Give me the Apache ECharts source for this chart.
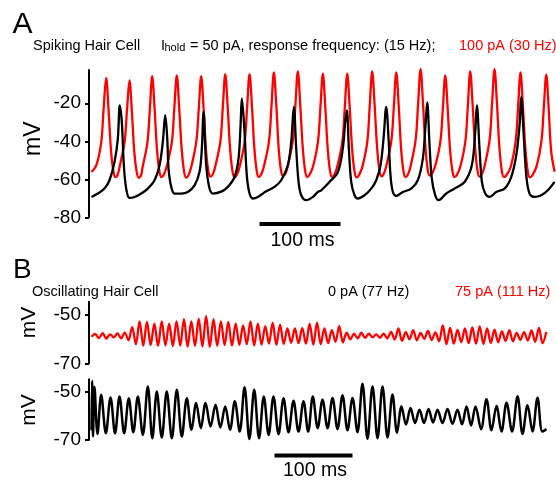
<!DOCTYPE html>
<html>
<head>
    <meta charset="utf-8">
    <title>Hair cell traces</title>
    <script src="https://cdn.jsdelivr.net/npm/echarts@6/dist/echarts.min.js"></script>
</head>
<body style="margin:0">
    <div id="main" style="width: 556px;height:482px;"></div>
    <script>
        // Panel A, spiking hair cell: [time (ms), potential (mV)]
        var spike100pA = [
            [0,-56.2],[6,-52.6],[12,-40.4],[15,-22.6],[18.1,-6.7],
            [21.1,-24],[24.1,-45],[27.1,-56],[29.6,-58.8],[32.6,-57.2],[34.9,-53],[40.9,-40],[43.9,-23],[46.9,-8],
            [49.9,-25],[52.9,-46],[55.9,-56.5],[58.4,-59.2],[61.4,-57.6],[62.9,-54],[68.9,-41],[71.9,-24],[74.9,-5.8],
            [77.9,-23],[80.9,-45],[83.9,-56],[86.4,-58.8],[89.4,-57.5],[93.3,-52.5],[99.3,-40],[102.3,-22],[105.3,-5.3],
            [108.3,-23],[111.3,-44],[114.3,-56],[116.8,-59.2],[119.8,-57.8],[123.4,-53],[129.4,-40],[132.4,-23],[135.4,-5.8],
            [138.4,-23],[141.4,-45],[144.4,-56],[146.9,-58.6],[149.9,-57.3],[153.1,-52.6],[159.1,-40],[162.1,-22],[165.1,-4.7],
            [168.1,-22],[171.1,-44],[174.1,-56],[176.6,-59],[179.6,-57.5],[183.1,-53],[189.1,-40],[192.1,-22],[195.1,-4.7],
            [198.1,-22],[201.1,-44],[204.1,-56],[206.6,-58.8],[209.6,-57.4],[213.1,-52.8],[219.1,-40],[222.1,-22],[225.1,-3.8],
            [228.1,-21],[231.1,-44],[234.1,-55.8],[236.6,-58.2],[239.6,-56.8],[242.7,-52.5],[248.7,-39],[251.7,-21],[254.7,-3.2],
            [257.7,-21],[260.7,-43],[263.7,-55.5],[266.2,-58.8],[269.2,-57.6],[273.6,-53],[279.6,-40],[282.6,-22],[285.6,-4.4],
            [288.6,-22],[291.6,-44],[294.6,-56],[297.1,-58.8],[300.1,-57.4],[303.7,-52.8],[309.7,-40],[312.7,-22],[315.7,-4.4],
            [318.7,-22],[321.7,-44],[324.7,-56],[327.2,-59],[330.2,-57.8],[334.5,-53.2],[340.5,-40],[343.5,-21],[346.5,-3.2],
            [349.5,-21],[352.5,-43],[355.5,-55.6],[358,-58.4],[361,-57],[364.2,-52.5],[370.2,-39.5],[373.2,-22],[376.2,-3.8],
            [379.2,-21],[382.2,-44],[385.2,-56],[387.7,-58.8],[390.7,-57.4],[394.2,-52.6],[400.2,-39],[403.2,-20],[406.2,-2.1],
            [409.2,-20],[412.2,-43],[415.2,-55.4],[417.7,-58],[420.7,-56.8],[424.7,-52.4],[430.7,-40],[433.7,-23],[436.7,-5.3],
            [439.7,-23],[442.7,-45],[445.7,-56],[448.2,-58.8],[451.2,-57.6],[455.5,-53],[461.5,-40],[464.5,-22],[467.5,-3.2],
            [470.5,-21],[473.5,-43],[476.5,-55.6],[479,-58.6],[482,-57.2],[485.5,-52.6],[491.5,-39],[494.5,-20],[497.5,-2.1],
            [500.5,-20],[503.5,-43],[506.5,-55.6],[509,-58.8],[512,-58],[517.6,-53.4],[523.6,-40],[526.6,-22],[529.6,-3.8],
            [532.6,-22],[535.6,-44],[538.6,-56],[541.1,-59],[544.1,-58],[549.4,-53.2],[555.4,-40],[558.4,-22],[561.4,-4.9],
            [564.4,-23],[567.4,-45],[571.6,-56]
        ];
        var spike50pA = [
            [0,-69.3],[7.8,-67.5],[16,-64.9],[22.2,-60.5],[28.4,-50.9],[32.5,-38.6],[34.9,-21.1],
            [37.4,-29.8],[39.9,-52.6],[42.8,-64.9],[46.9,-69.8],[53.1,-69.3],[61.4,-67.5],[69.5,-64.9],[77.8,-60.5],[84,-52.6],[88,-40.4],[91,-26.3],
            [93.5,-38.6],[95.1,-54.4],[98.4,-64],[102.5,-67.5],[110.7,-67.5],[118.9,-66.7],[127.2,-63.2],[133.3,-56.2],[136.2,-43.9],[138.3,-24.5],
            [141.6,-52.6],[145.7,-64.9],[149.8,-67.5],[160.1,-66.5],[168.3,-64],[176.5,-58.8],[181.5,-49.1],[184,-31.6],[185.6,-17.5],
            [188.9,-35.1],[191.7,-57.9],[195.1,-67.5],[199.1,-70.1],[205.3,-69.3],[215.7,-66.3],[225.9,-64],[234.2,-60.5],[242.3,-52.6],[246.5,-40.4],[249.8,-21.9],
            [252.7,-43.9],[255.6,-61.4],[258.9,-68.4],[265.1,-71],[273.2,-69.3],[279.4,-66.7],[283.6,-65.8],[293.8,-61.4],[304.1,-56.2],[310.2,-43.9],[313.2,-29.8],[315.2,-23.7],
            [317.7,-43.9],[320.6,-61.4],[324.7,-68.4],[328.8,-70.1],[337,-68.4],[345.3,-64.9],[351.5,-60.5],[356.8,-52.6],[360.5,-38.6],[363.8,-21.9],
            [366.7,-38.6],[369.1,-57.9],[372,-66.7],[376.2,-68.8],[384.3,-66.7],[394.7,-64.9],[402.8,-60.5],[409,-49.1],[412.3,-31.6],[414.4,-19.6],
            [417.3,-42.1],[420.1,-59.6],[424.3,-68.4],[428.4,-71],[437.9,-67.5],[448.1,-64.9],[460.5,-61.4],[469.5,-52.6],[473.7,-35.1],[475.7,-21.1],
            [479,-43.9],[481.9,-61.4],[486,-67.5],[491.4,-69.3],[499.6,-66.7],[509.9,-64.9],[518.1,-58.8],[524.3,-47.4],[528.4,-31.6],[530.5,-16.7],
            [533.3,-35.1],[536.7,-57.9],[540.7,-67.5],[546.9,-69.3],[555.2,-68.4],[563.3,-65.8],[571.6,-61.4]
        ];

        // Panel B, oscillating hair cell
        // 75 pA: alternating peak / trough values, one every 4.74 ms
        var osc75pAStep = 4.74;
        var osc75pA = [
            -59.2,
            -58.0,-59.7, -57.7,-59.9, -58.2,-59.4, -57.8,-59.8, -57.5,-60.6,
            -55.2,-62.2, -52.9,-62.8, -53.1,-62.6, -53.8,-62.9, -52.9,-62.7,
            -53.8,-63.0, -52.9,-62.8, -52.0,-63.2, -52.9,-62.9, -51.8,-63.1,
            -50.7,-63.3, -52.0,-62.9, -52.9,-62.6, -53.1,-62.8, -53.8,-62.5,
            -54.5,-62.2, -52.9,-62.7, -53.8,-62.4, -54.8,-62.0, -53.4,-62.5,
            -54.2,-62.1, -55.8,-61.6, -55.8,-61.8, -55.6,-62.0, -53.8,-62.4,
            -53.4,-62.2, -55.8,-61.8, -56.5,-61.2, -54.8,-61.5, -57.5,-60.2,
            -57.9,-59.8, -57.5,-59.6, -57.9,-59.4, -58.2,-59.6, -57.9,-59.8,
            -57.2,-60.3, -55.8,-60.8, -57.3,-60.2, -56.5,-60.6, -57.6,-60.0,
            -56.8,-60.5, -57.4,-61.0, -54.5,-62.2, -55.5,-62.0, -56.4,-61.4,
            -55.8,-61.8, -55.3,-62.0, -54.9,-62.1, -55.8,-61.7, -56.3,-61.4,
            -57.0,-60.8, -56.5,-61.0, -57.6,-60.4, -57.3,-60.7, -56.6,-61.2,
            -55.5,-61.8, -57.2
        ];
        // 0 pA: [time (ms), potential (mV)]
        var osc0pA = [
            [0,-66],[0.8,-45.5],[1.9,-68.5],[3.8,-48],[7.7,-67.5],
            [12.4,-51.3],[18.4,-67.2],[24.4,-52.4],[30.2,-67.2],[35.9,-52],[41.9,-67.2],
            [47.8,-52.7],[53.6,-66.8],[59.4,-52],[65.8,-67.9],[72.2,-47.8],[78,-69.3],
            [83.7,-49.9],[90.1,-69],[96.5,-49.9],[103,-69.3],[109.4,-49.2],[115.8,-68.6],
            [122.2,-52.7],[128.2,-65.8],[134.2,-54.7],[140.2,-65.1],[146.2,-54.7],[152.6,-64.4],
            [159,-55.4],[165.2,-64.8],[171.4,-56.1],[177.6,-65.8],[183.7,-54],[190,-66.5],
            [196.2,-48.2],[202.4,-69.6],[208.6,-49.2],[214.8,-69.3],[220.9,-52],[227.1,-67.9],
            [233.3,-52],[239.8,-67.6],[246.2,-52.7],[252.6,-66.8],[259,-53.8],[265.4,-66.5],
            [271.8,-54],[277.8,-66.5],[283.7,-52],[290,-65.1],[296.2,-53.3],[302.6,-65.1],
            [309,-52.6],[315.4,-65.5],[321.8,-51.5],[328.2,-66],[334.6,-52.6],[341,-66.8],
            [347.4,-46.7],[353.8,-69.5],[360.3,-47.8],[366.7,-69.3],[373.1,-47.8],[379.5,-69],
            [385.9,-51.2],[391.7,-67],[397.4,-56.1],[403.2,-63.6],[409,-56.8],[414.8,-63],
            [420.5,-57.5],[426.3,-63],[432.1,-57.2],[437.9,-62.8],[443.6,-57.5],[450,-63],
            [456.4,-57.2],[462.8,-63.3],[469.2,-57.5],[475,-63.5],[480.8,-56.1],[486.6,-64],
            [492.3,-56.1],[499.4,-65.5],[506.4,-53.1],[512.8,-66],[519.2,-55.9],[525.6,-66.5],
            [532.1,-54.6],[539.2,-66.5],[546.2,-51.9],[552.6,-67.5],[559,-55.6],[565.4,-66.5],
            [571.8,-52.5],[578,-66.5],[583.3,-65.5]
        ];

        var ticksA = [-80, -60, -40, -20];
        var ticksB = [-70, -50];
        // 100 ms scale bars: start time (ms)
        var scaleBarAStart = 207.4;
        var scaleBarBStart = 234.6;
        var scaleBarLength = 100;

        var FONT = '"Liberation Sans", Arial, sans-serif';
        var RED = '#ff0000';

        var chartDom = document.getElementById('main');
        var myChart = echarts.init(chartDom);
        var option;

        function yAxisFor(grid, min, max, ticks) {
            return {
                type: 'value', gridIndex: grid, min: min, max: max,
                splitLine: { show: false },
                axisLine: { show: true, onZero: false, lineStyle: { color: '#000', width: 2 } },
                axisTick: { show: true, length: 4, customValues: ticks, lineStyle: { color: '#000', width: 2 } },
                axisLabel: { color: '#000', fontSize: 19, fontFamily: FONT, margin: 8, customValues: ticks }
            };
        }
        function xAxisFor(grid, min, max) {
            return { type: 'value', gridIndex: grid, min: min, max: max, show: false };
        }
        function trace(axis, data, color, width, z) {
            return {
                type: 'line', xAxisIndex: axis, yAxisIndex: axis, data: data,
                showSymbol: false, symbol: 'none', smooth: 0.35, clip: false, silent: true, z: z,
                lineStyle: { color: color, width: width }
            };
        }
        function bar(axis, start, level) {
            return {
                type: 'line', xAxisIndex: axis, yAxisIndex: axis, clip: false, silent: true,
                showSymbol: false, symbol: 'none',
                data: [[start, level], [start + scaleBarLength, level]],
                lineStyle: { color: '#000', width: 4, cap: 'butt' }
            };
        }
        function txt(x, y, text, size, color, align) {
            return {
                type: 'text', x: x, y: y, silent: true,
                style: { text: text, fill: color || '#000', font: size + 'px ' + FONT,
                    textAlign: align || 'left', textVerticalAlign: 'middle' }
            };
        }
        function vtxt(x, y, text, size) {
            var t = txt(x, y, text, size, '#000', 'center');
            t.rotation = Math.PI / 2;
            return t;
        }

        var osc75pAData = osc75pA.map(function (v, i) { return [i * osc75pAStep, v]; });

        option = {
            animation: false,
            backgroundColor: '#fff',
            grid: [
                { left: 89, top: 70, width: 467, height: 147.3 },
                { left: 89, top: 301.7, width: 467, height: 61.6 },
                { left: 89, top: 379.3, width: 467, height: 60.7 }
            ],
            xAxis: [
                xAxisFor(0, -3.1, 573.4),
                xAxisFor(1, -3.2, 595.5),
                xAxisFor(2, -3.2, 595.5)
            ],
            yAxis: [
                yAxisFor(0, -80, -2.5, ticksA),
                yAxisFor(1, -70, -44.85, ticksB),
                yAxisFor(2, -70, -44.87, ticksB)
            ],
            series: [
                trace(0, spike100pA, RED, 2.3, 2),
                trace(0, spike50pA, '#000', 2.3, 3),
                bar(0, scaleBarAStart, -83.5),
                trace(1, osc75pAData, RED, 2.3, 2),
                trace(2, osc0pA, '#000', 2.5, 2),
                bar(2, scaleBarBStart, -76.4)
            ],
            graphic: [
                txt(12.5, 25, 'A', 30),
                txt(33, 46, 'Spiking Hair Cell', 14.5),
                txt(161, 46, 'I', 14.5),
                txt(164.5, 47.5, 'hold', 11),
                txt(186, 46, ' = 50 pA, response frequency: (15 Hz);', 14.5),
                txt(459, 46, '100 pA (30 Hz)', 14.5, RED),
                vtxt(34, 138.7, 'mV', 23),
                txt(302.5, 240.5, '100 ms', 19.5, '#000', 'center'),
                txt(13, 270.5, 'B', 28),
                txt(32, 292, 'Oscillating Hair Cell', 14.5),
                txt(328, 292, '0 pA (77 Hz)', 14.5),
                txt(455, 292, '75 pA (111 Hz)', 14.5, RED),
                vtxt(29, 322.5, 'mV', 21),
                vtxt(29, 410, 'mV', 21),
                txt(315, 470.5, '100 ms', 19.5, '#000', 'center')
            ]
        };

        option && myChart.setOption(option);
    </script>
</body>
</html>
